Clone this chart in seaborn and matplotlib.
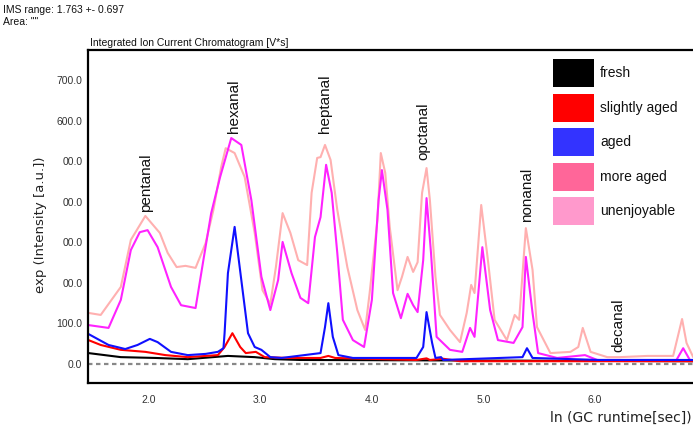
import numpy as np
import pandas as pd
import matplotlib
matplotlib.use('Agg')
import matplotlib.pyplot as plt
from matplotlib.patches import Patch
import seaborn as sns

sns.set_theme(style='white')
plt.rcParams['font.family'] = ['Liberation Sans', 'DejaVu Sans']

# values, x = ln(GC runtime), y = intensity
unenj_x = [1.46, 1.57, 1.75, 1.84, 1.97, 2.10, 2.17, 2.25, 2.33, 2.42, 2.51, 2.58, 2.65, 2.69, 2.77, 2.86, 2.95,
           3.02, 3.09, 3.14, 3.20, 3.27, 3.34, 3.42, 3.46, 3.51, 3.54, 3.58, 3.63, 3.69, 3.78, 3.87, 3.94, 3.98,
           4.05, 4.08, 4.12, 4.16, 4.23, 4.27, 4.32, 4.37, 4.41, 4.45, 4.49, 4.52, 4.57, 4.61, 4.70, 4.79, 4.85,
           4.89, 4.92, 4.98, 5.04, 5.10, 5.21, 5.28, 5.32, 5.38, 5.44, 5.48, 5.60, 5.78, 5.85, 5.89, 5.96, 6.11,
           6.22, 6.47, 6.70, 6.78, 6.82, 6.88]
unenj_y = [126, 121, 190, 306, 365, 323, 274, 239, 242, 237, 298, 380, 486, 532, 520, 461, 323,
           182, 148, 239, 372, 323, 256, 244, 422, 508, 510, 540, 503, 380, 239, 133, 84, 175,
           355, 520, 471, 338, 182, 215, 264, 227, 251, 422, 483, 404, 215, 121, 84, 54, 126,
           195, 175, 392, 256, 109, 59, 121, 109, 335, 232, 91, 27, 30, 42, 89, 30, 17,
           17, 20, 20, 111, 52, 17]

more_x = [1.46, 1.64, 1.75, 1.84, 1.92, 1.99, 2.08, 2.20, 2.29, 2.42, 2.49, 2.56, 2.64, 2.74, 2.83, 2.92, 3.01,
          3.09, 3.16, 3.20, 3.28, 3.36, 3.43, 3.49, 3.54, 3.59, 3.64, 3.69, 3.74, 3.83, 3.93, 4.00, 4.06, 4.09,
          4.14, 4.19, 4.26, 4.32, 4.37, 4.41, 4.46, 4.49, 4.53, 4.58, 4.70, 4.81, 4.88, 4.92, 4.99, 5.06, 5.13,
          5.27, 5.35, 5.38, 5.44, 5.49, 5.66, 5.91, 6.02, 6.73, 6.79, 6.85, 6.88]
more_y = [96, 89, 158, 281, 325, 330, 288, 190, 145, 138, 256, 372, 461, 557, 540, 404, 215,
          133, 207, 301, 224, 163, 150, 313, 362, 491, 422, 274, 109, 59, 42, 158, 404, 478,
          380, 175, 113, 173, 145, 128, 256, 409, 274, 67, 35, 30, 89, 67, 288, 133, 59,
          52, 91, 264, 126, 27, 15, 22, 10, 10, 39, 10, 10]

aged_x = [1.46, 1.64, 1.79, 1.90, 2.01, 2.08, 2.20, 2.35, 2.51, 2.62, 2.67, 2.68, 2.71, 2.77, 2.83, 2.89, 2.95,
          3.01, 3.09, 3.19, 3.54, 3.58, 3.61, 3.65, 3.70, 3.83, 4.40, 4.46, 4.49, 4.54, 4.57, 4.62, 4.64, 5.35,
          5.39, 5.44, 6.04, 6.88]
aged_y = [74, 47, 37, 47, 62, 54, 30, 22, 25, 30, 39, 76, 224, 338, 207, 76, 42,
          35, 17, 15, 27, 91, 150, 67, 22, 15, 15, 42, 128, 52, 15, 17, 10, 17,
          39, 15, 10, 10]

slight_x = [1.46, 1.57, 1.75, 1.97, 2.15, 2.35, 2.62, 2.68, 2.75, 2.82, 2.87, 2.96, 3.04, 3.25, 3.54, 3.61, 3.67,
            4.40, 4.49, 4.52, 4.64, 4.79, 6.88]
slight_y = [59, 47, 35, 30, 22, 17, 22, 42, 76, 42, 27, 30, 17, 15, 15, 20, 15,
            10, 14, 10, 13, 7, 7]

fresh_x = [1.46, 1.75, 2.06, 2.35, 2.71, 2.95, 3.13, 3.36, 6.88]
fresh_y = [27, 17, 15, 12, 20, 17, 12, 10, 7]

samples = ['fresh', 'slightly aged', 'aged', 'more aged', 'unenjoyable']
line_colors = ['#000000', '#ff0000', '#1010ff', '#ff22ff', '#ffb0b0']
legend_colors = ['#000000', '#ff0000', '#3333ff', '#ff6699', '#ff99cc']

compounds = ['pentanal', 'hexanal', 'heptanal', 'opctanal', 'nonanal', 'decanal']
compound_x = [1.98, 2.76, 3.58, 4.46, 5.39, 6.21]
compound_y = [375, 569, 569, 503, 350, 30]

ytick_vals = [0, 100, 200, 300, 400, 500, 600, 700]
ytick_text = ['0.0', '100.0', '00.0', '00.0', '00.0', '00.0', '600.0', '700.0']
xtick_vals = [2, 3, 4, 5, 6]

frames = []
for name, xs, ys in [('unenjoyable', unenj_x, unenj_y), ('more aged', more_x, more_y),
                     ('fresh', fresh_x, fresh_y), ('slightly aged', slight_x, slight_y),
                     ('aged', aged_x, aged_y)]:
    frames.append(pd.DataFrame({'x': xs, 'y': ys, 'sample': name}))
df = pd.concat(frames, ignore_index=True)

fig = plt.figure(figsize=(6.93, 4.29), dpi=100)
ax = fig.add_axes([88 / 693, 1 - 382.7 / 429, 605 / 693, 332.7 / 429])

ax.axhline(0, color='#888888', lw=1.6, ls=(0, (2, 1.6)), zorder=1)
sns.lineplot(data=df, x='x', y='y', hue='sample', palette=dict(zip(samples, line_colors)),
             hue_order=['unenjoyable', 'more aged', 'fresh', 'slightly aged', 'aged'],
             sort=False, estimator=None, lw=1.5, legend=False, ax=ax)

for name, cx, cy in zip(compounds, compound_x, compound_y):
    ax.text(cx, cy, name, rotation=90, ha='center', va='bottom', fontsize=11, color='#111111')

ax.set_xlim(1.456, 6.878)
ax.set_ylim(-46, 774)
ax.set_xticks(xtick_vals)
ax.set_xticklabels([f'{v:.1f}' for v in xtick_vals])
ax.set_yticks(ytick_vals)
ax.set_yticklabels(ytick_text)
ax.tick_params(axis='x', direction='in', length=6, width=1.5, color='black', pad=9,
               labelsize=7.5, labelcolor='#333333')
ax.tick_params(axis='y', direction='in', length=4, width=1.5, color='black', pad=4,
               labelsize=7.5, labelcolor='#333333')
for s in ['left', 'bottom', 'top']:
    ax.spines[s].set_color('black')
    ax.spines[s].set_linewidth(1.6)
ax.spines['right'].set_visible(False)

ax.set_xlabel('ln (GC runtime[sec])', fontsize=10, family='DejaVu Sans', color='#222222',
              ha='right', va='center')
ax.xaxis.set_label_coords(0.997, -0.106)
ax.set_ylabel('exp (Intensity [a.u.])', fontsize=9.5, family='DejaVu Sans', color='#222222')
ax.yaxis.set_label_coords(-0.068, 0.474)

handles = [Patch(facecolor=c, edgecolor='none', label=n) for n, c in zip(samples, legend_colors)]
ax.legend(handles=handles, loc='upper left', bbox_to_anchor=(0.7686, 0.972), frameon=False,
          fontsize=10, handlelength=2.95, handleheight=2.72, labelspacing=0.47,
          handletextpad=0.45, borderpad=0, borderaxespad=0, labelcolor='#111111')

fig.text(3 / 693, 1 - 10 / 429, 'IMS range: 1.763 +- 0.697', fontsize=7.5, va='center', color='#111111')
fig.text(3 / 693, 1 - 22 / 429, 'Area: ""', fontsize=7.5, va='center', color='#111111')
fig.text(90 / 693, 1 - 43 / 429, 'Integrated Ion Current Chromatogram [V*s]', fontsize=7.5,
         va='center', color='#111111')

fig.savefig('out.png', dpi=100)
